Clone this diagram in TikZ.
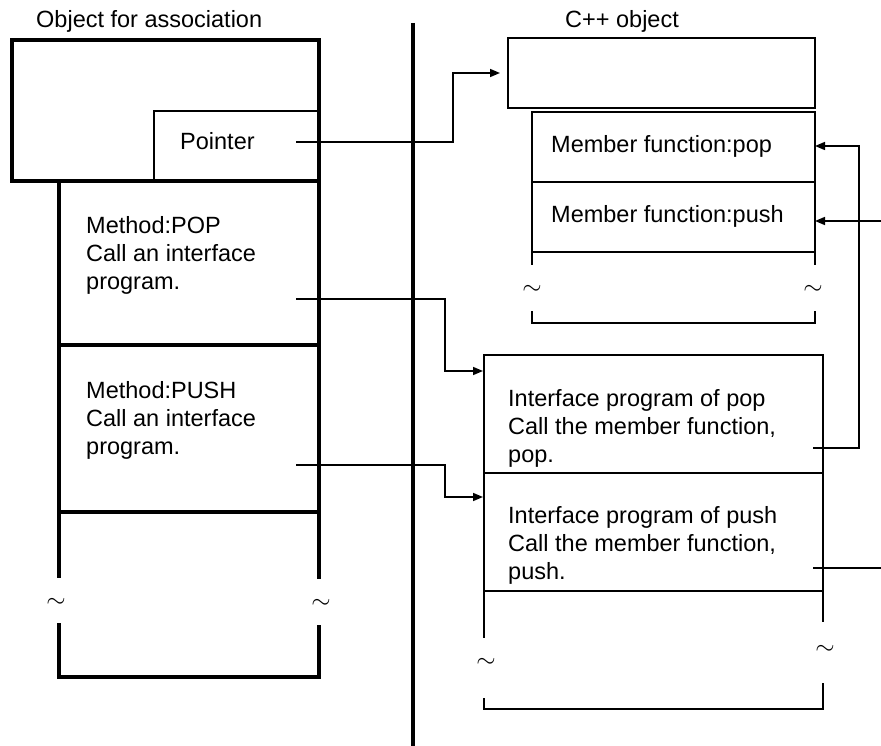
\documentclass[tikz,border=0pt]{standalone}
\usepackage{fontspec}
\setmainfont{Liberation Sans}
\usepackage{tikz}
\usetikzlibrary{calc,positioning,arrows.meta}

\begin{document}
\begin{tikzpicture}[
        x=1pt, y=-1pt,
        font=\fontsize{23.5}{28}\selectfont,
        box/.style={rectangle, inner sep=0pt, outer sep=0pt},
        lbox/.style={box, draw, line width=3.5pt},
        pbox/.style={box, draw, line width=2pt},
        rbox/.style={box, draw, line width=1.8pt},
        heavy/.style={line width=3.5pt},
        thin/.style={line width=1.8pt},
        txt/.style={align=left, inner sep=0pt, anchor=base west},
        brk/.style={inner sep=0pt, font=\fontsize{32}{32}\selectfont},
        arrow/.style={line width=1.5pt, -{Triangle[length=10pt,width=8pt]}},
        divider/.style={line width=4pt}
    ]
        \useasboundingbox (0,0) rectangle (881,746);
        \clip (0,0) rectangle (881,746);

        % object for association (left)
        \node[txt] (assoctitle) at (36,28) {Object for association};
        \node[lbox, minimum width=307pt, minimum height=141pt, anchor=north west] (assoc) at (12,40) {};
        \node[pbox, minimum width=165pt, minimum height=70pt, anchor=south east] (ptr) at (assoc.south east) {};
        \node[txt] (ptrtxt) at ($(ptr.north west)+(26,39)$) {Pointer};
        \node[lbox, minimum width=260pt, minimum height=164pt, anchor=north east] (mpop) at (assoc.south east) {};
        \node[lbox, minimum width=260pt, minimum height=167pt, below=0pt of mpop] (mpush) {};
        % base of a multi-line node is its last line
        \node[txt] (mpoptxt) at ($(mpop.north west)+(27,108)$) {Method:POP\\Call an interface\\program.};
        \node[txt] (mpushtxt) at ($(mpush.north west)+(27,109)$) {Method:PUSH\\Call an interface\\program.};

        \draw[heavy] (mpush.south west) -- ++(0,66);
        \draw[heavy] (mpush.south east) -- ++(0,67);
        \draw[heavy] (59,623) -- (59,677) -- (319,677) -- (319,625);
        \node[brk] (brkl1) at (56,603) {$\sim$};
        \node[brk] (brkl2) at (321,604) {$\sim$};

        % divider
        \draw[divider] (413,23) -- (413,746);

        % C++ object (right)
        \node[txt] (cpptitle) at (565,28) {C++ object};
        \node[rbox, minimum width=307pt, minimum height=70pt, anchor=north west] (cpp) at (508,38) {};
        \node[rbox, minimum width=283pt, minimum height=70pt, anchor=north east] (fpop) at ($(cpp.south east)+(0,4)$) {};
        \node[rbox, minimum width=283pt, minimum height=70pt, below=0pt of fpop] (fpush) {};
        \node[txt] (fpoptxt) at ($(fpop.north west)+(19,41)$) {Member function:pop};
        \node[txt] (fpushtxt) at ($(fpush.north west)+(19,41)$) {Member function:push};

        \draw[thin] (fpush.south west) -- ++(0,13);
        \draw[thin] (fpush.south east) -- ++(0,13);
        \draw[thin] (532,311) -- (532,323) -- (815,323) -- (815,311);
        \node[brk] (brkf1) at (532,290) {$\sim$};
        \node[brk] (brkf2) at (813,290) {$\sim$};

        % interface programs
        \node[rbox, minimum width=339pt, minimum height=118pt, anchor=north west] (ipop) at (484,355) {};
        \node[rbox, minimum width=339pt, minimum height=118pt, below=0pt of ipop] (ipush) {};
        \node[txt] (ipoptxt) at ($(ipop.north west)+(24,107)$) {Interface program of pop\\Call the member function,\\pop.};
        \node[txt] (ipushtxt) at ($(ipush.north west)+(24,106)$) {Interface program of push\\Call the member function,\\push.};

        \draw[thin] (ipush.south west) -- ++(0,47);
        \draw[thin] (ipush.south east) -- ++(0,31);
        \draw[thin] (484,698) -- (484,709) -- (823,709) -- (823,683);
        \node[brk] (brki1) at (486,663) {$\sim$};
        \node[brk] (brki2) at (825,650) {$\sim$};

        % connectors
        \coordinate (ptrout) at (296,142);
        \coordinate (mpopout) at (296,299);
        \coordinate (mpushout) at (296,465);
        \coordinate (ipopout) at (813,448);
        \coordinate (ipushout) at (813,568);

        \draw[arrow] (ptrout) -- ++(157,0) |- ([xshift=-8pt]cpp.west);
        \draw[arrow] (mpopout) -- ++(149,0) |- ($(ipop.north west)+(-1,16)$);
        \draw[arrow] (mpushout) -- ++(149,0) |- ($(ipush.north west)+(-1,24)$);
        \draw[arrow] (ipopout) -- ++(46,0) |- ($(fpop.east)+(0,-1)$);
        \draw[arrow] (ipushout) -- ++(80,0) |- ($(fpush.east)+(0,4)$);
    \end{tikzpicture}
\end{document}
